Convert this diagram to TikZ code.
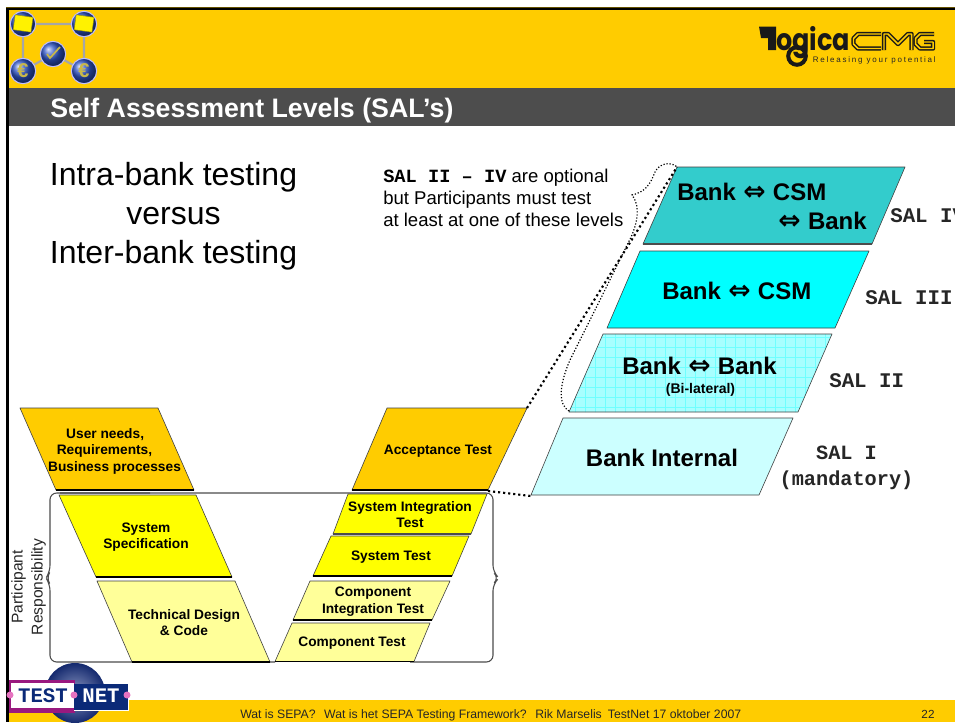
\documentclass[tikz,border=0pt]{standalone}
\usepackage{fontspec}
\setmainfont{Liberation Sans}
\setmonofont{Liberation Mono}
\newfontfamily\symf{DejaVu Sans}
\newfontfamily\logof{Poppins}
\newcommand{\dar}{\hspace{.5pt}{\symf\fontsize{20}{20}\selectfont\char"21D4}\hspace{.5pt}}
\definecolor{banner}{HTML}{FFCC00}
\definecolor{bargrey}{HTML}{4D4D4D}
\definecolor{vyellow}{HTML}{FFFF00}
\definecolor{lyellow}{HTML}{FFFF99}
\definecolor{salfour}{HTML}{33CCCC}
\definecolor{salthree}{HTML}{00FFFF}
\definecolor{salone}{HTML}{CCFFFF}
\definecolor{saltwo}{HTML}{A8FFFF}
\definecolor{salgrid}{HTML}{70FFFF}
\definecolor{tnnavy}{HTML}{0B2A78}
\definecolor{tnpurple}{HTML}{99197F}
\definecolor{tnpink}{HTML}{E673C0}
\definecolor{tnmid}{HTML}{8A96C0}
\definecolor{tnout}{HTML}{14296E}
\definecolor{icball}{HTML}{2F55C8}
\definecolor{iceuro}{HTML}{C8B84A}
\usetikzlibrary{calc}
\tikzset{
  para/.style={draw=black!75,line width=.45pt,line join=round},
  vlabel/.style={align=center,inner sep=0pt,font=\fontsize{10.3}{12.4}\selectfont\bfseries},
  banklabel/.style={inner sep=0pt,font=\fontsize{18}{20}\selectfont\bfseries},
  sallabel/.style={inner sep=0pt,align=center,font=\fontsize{15.6}{19.5}\selectfont\ttfamily\bfseries,text=black!85},
  smallball/.style={circle,minimum size=19pt,inner sep=0pt,ball color=icball,draw=blue!25,line width=.8pt},
  iconlink/.style={draw=black!35,line width=1.6pt},
  cmgstroke/.style={line width=1.1pt,draw=black!90,double=banner,double distance=1.1pt,line join=round},
  fatdots/.style={black,line width=1.6pt,dash pattern=on 1.6pt off 2.2pt},
}
\begin{document}
\begin{tikzpicture}[x=0.75pt,y=-0.75pt]
\useasboundingbox (0,0) rectangle (955,722);
\fill[white] (0,0) rectangle (955,722);
% banners
\fill[banner] (8,9) rectangle (955,88);
\fill[bargrey] (8,88) rectangle (955,126);
\fill[banner] (8,700) rectangle (955,722);
\fill[black!60!banner] (6,7) rectangle (955,8);
\fill[black] (6,8) rectangle (955,10);
\fill[black] (6,8) rectangle (9,722);
\node[anchor=west,inner sep=0pt,text=white,font=\fontsize{20.05}{22}\selectfont\bfseries] (title) at (50,111) {Self Assessment Levels (SAL’s)};
% icon
\coordinate (ia) at (23,24); \coordinate (ib) at (84,24); \coordinate (ic) at (23,71);
\coordinate (id) at (84,71); \coordinate (ie) at (53,54);
\draw[iconlink] (ia) -- (ib) -- (id) -- (ie) -- (ic) -- (ia);
\foreach \p in {ia,ib,ic,id,ie} \node[smallball] at (\p) {};
\foreach \p in {ia,ib} \fill[vyellow!90!orange,draw=olive,line width=.3pt,rotate around={-8:(\p)}] ($(\p)+(-9,-8)$) rectangle ($(\p)+(9,7)$);
\foreach \p in {ic,id} \node[inner sep=0pt,text=iceuro,font=\fontsize{15}{15}\selectfont\bfseries] at (\p) {€};
\draw[iceuro,line width=1.3pt] (47,54) -- (50,58) -- (60,47);
% logica logo
\fill[black!90] (759,26.5) -- (776,26.5) -- (776,50) -- (768,50) -- (768,38) -- (761,38) -- cycle;
\node[anchor=base west,inner sep=0pt,xscale=.85,text=black!90,font=\logof\fontsize{22.5}{24}\selectfont\bfseries] (logica) at (776,50) {ogica};
\draw[black!90,line width=3pt] (797,56) circle (8.8);
\draw[cmgstroke] (881,34) -- (858,34) -- (853.5,38.5) -- (853.5,44) -- (858,48.5) -- (881,48.5);
\draw[cmgstroke] (884,50) -- (884,34) -- (888,34) -- (898,44) -- (908,34) -- (911.5,34) -- (911.5,50);
\draw[cmgstroke] (934,34) -- (920,34) -- (915.5,38.5) -- (915.5,44) -- (920,48.5) -- (933,48.5) -- (933,42) -- (924,42);
\node[anchor=base east,inner sep=0pt,text=black!85,font=\fontsize{6}{6}\selectfont\addfontfeature{LetterSpace=22}] (tagline) at (936,62) {Releasing your potential};
% intro text
\node[align=center,inner sep=0pt,font=\fontsize{24}{29.3}\selectfont] (intro) at (173.5,216) {Intra-bank testing\\versus\\Inter-bank testing};
\node[anchor=north west,align=left,inner sep=0pt,font=\fontsize{13.9}{16.5}\selectfont] (note) at (383,168.5)
 {{\ttfamily\bfseries\fontsize{14}{16.5}\selectfont SAL II – IV} are optional\\but Participants must test\\at least at one of these levels};
% V model corners
\coordinate (an1) at (527,408); \coordinate (an2) at (488,491);
\coordinate (s1a) at (531,496); \coordinate (s4a) at (677,167); \coordinate (s2a) at (569,411);
% bracket
\coordinate (brl) at (46,578); \coordinate (brr) at (499,578);
\draw[black!70,line width=.8pt,rounded corners=5pt]
  (150,493) -- (50,493) -- (50,572) -- (brl) -- (50,584) -- (50,662) -- (275,662);
\draw[black!70,line width=.8pt,rounded corners=5pt]
  (60,493) -- (493,493) -- (493,572) -- (brr) -- (493,584) -- (493,662) -- (410,662);
% left V
\draw[para,fill=banner] (20,408) -- (158,408) -- (194,490) -- (56,490) -- cycle;
\draw[black,line width=1pt] (56,490) -- (194,490);
\draw[para,fill=vyellow] (59,495) -- (196,495) -- (232,577) -- (96,577) -- cycle;
\draw[black,line width=1.1pt] (96,577) -- (232,577);
\draw[para,fill=lyellow] (97,581) -- (235,581) -- (270,662) -- (132,662) -- cycle;
\draw[black,line width=.8pt] (132,662) -- (270,662);
% right V
\draw[para,fill=banner] (387,408) -- (527,408) -- (488,490) -- (352,490) -- cycle;
\draw[black,line width=1pt] (352,490) -- (488,490);
\draw[para,fill=vyellow] (348,494) -- (487,494) -- (471,534) -- (333,534) -- cycle;
\draw[black!70,line width=1pt] (333,534) -- (471,534);
\draw[para,fill=vyellow] (331,536) -- (469,536) -- (452,576) -- (313,576) -- cycle;
\draw[black,line width=1.1pt] (313,576) -- (452,576);
\draw[para,fill=lyellow] (310,581) -- (450,581) -- (432,620) -- (293,620) -- cycle;
\draw[black,line width=1pt] (293,620) -- (432,620);
\draw[para,fill=lyellow] (292,623) -- (430,623) -- (414,661.5) -- (275,661.5) -- cycle;
\draw[black,line width=.8pt] (275,661.5) -- (414,661.5);
% V labels
\node[vlabel] (un) at (114.5,451) {User needs,\rule{14pt}{0pt}\\Requirements,\rule{15pt}{0pt}\\Business processes};
\node[vlabel] (ss) at (146,537) {System\\Specification};
\node[vlabel] (td) at (184,622.5) {Technical Design\\\& Code};
\node[vlabel] (at) at (438,451) {Acceptance Test};
\node[vlabel] (sit) at (410,514.5) {System Integration\\Test};
\node[vlabel] (st) at (391,557.5) {System Test};
\node[vlabel] (cit) at (373,601.5) {Component\\Integration Test};
\node[vlabel] (ct) at (352,643.5) {Component Test};
\node[rotate=90,align=center,inner sep=0pt,text=black!85,font=\fontsize{11.7}{15}\selectfont] (resp) at (28.5,587) {Participant\\Responsibility};
% bank levels
\draw[para,fill=salfour] (s4a) -- (905,167) -- (872,244) -- (643,244) -- cycle;
\draw[black!70,line width=.8pt] (643,244) -- (872,244);
\draw[para,fill=salthree] (640,251) -- (869,251) -- (835,328) -- (607,328) -- cycle;
\fill[saltwo] (603,334) -- (832,334) -- (798,412) -- (569,412) -- cycle;
\begin{scope}
\clip (603,334) -- (832,334) -- (798,412) -- (569,412) -- cycle;
\foreach \i in {0,...,28} \draw[salgrid,line width=.5pt] (565+\i*10,330) -- (565+\i*10,415);
\foreach \i in {0,...,8} \draw[salgrid,line width=.5pt] (560,337+\i*10) -- (840,337+\i*10);
\end{scope}
\draw[para] (603,334) -- (832,334) -- (798,412) -- (569,412) -- cycle;
\draw[para,fill=salone] (563,418) -- (793,418) -- (759,495) -- (531,495) -- cycle;
% bank labels
\node[banklabel,anchor=west] (b4a) at (677,192) {Bank \dar{} CSM};
\node[banklabel,anchor=east] (b4b) at (867,221) {\dar{} Bank};
\node[banklabel,anchor=west] (b3) at (662,291) {Bank \dar{} CSM};
\node[banklabel,anchor=west] (b2) at (622,366) {Bank \dar{} Bank};
\node[inner sep=0pt,font=\fontsize{10.5}{12}\selectfont\bfseries] (b2b) at (700.5,390) {(Bi-lateral)};
\node[banklabel] (b1) at (662,458) {Bank Internal};
% SAL labels
\node[sallabel,anchor=west] (l4) at (890,216) {SAL IV};
\node[sallabel,anchor=west] (l3) at (865,298) {SAL III};
\node[sallabel,anchor=west] (l2) at (829,381) {SAL II};
\node[sallabel,font=\fontsize{15.2}{19.5}\selectfont\ttfamily\bfseries] (l1) at (846.5,468) {SAL I\\(mandatory)};
% dotted connectors
\draw[fatdots] (an2) -- (s1a);
\draw[fatdots] (an1) -- (s4a);
\draw[black,line width=.9pt,dash pattern=on .9pt off 1.4pt] (s2a) .. controls (558,405) and (559,385) .. (570,360)
  .. controls (590,320) and (615,270) .. (632,235) .. controls (640,215) and (638,203) .. (632,195)
  .. controls (645,192) and (650,185) .. (655,172) .. controls (660,162) and (672,162) .. (s4a);
% footer
\node[inner sep=0pt,anchor=base west,text=black!85,font=\fontsize{9.17}{10}\selectfont] (foot) at (240,718.5) {Wat is SEPA?\hspace{.7em}Wat is het SEPA Testing Framework?\hspace{.7em}Rik Marselis\hspace{.5em}TestNet 17 oktober 2007};
\node[inner sep=0pt,anchor=base,text=black!85,font=\fontsize{8.8}{10}\selectfont] (page) at (928,718.5) {22};
% TestNet logo
\shade[inner color=tnmid,outer color=tnout] (75,693) circle (30);
\fill[tnpurple] (9,680) rectangle (75,713);
\fill[white] (11,683) rectangle (74,708);
\fill[tnnavy] (74,684) rectangle (128,710);
\draw[white,line width=.5pt] (128,684) -- (128,710) -- (74,710);
\node[inner sep=0pt,text=tnnavy,font=\fontsize{15.5}{15}\selectfont\ttfamily\bfseries] (tn1) at (43,695.5) {TEST};
\node[inner sep=0pt,text=white,font=\fontsize{15.5}{15}\selectfont\ttfamily\bfseries] (tn2) at (101,695.5) {NET};
\foreach \x in {10,74,127} \fill[tnpink] (\x,695) circle (3.5);
\end{tikzpicture}
\end{document}
